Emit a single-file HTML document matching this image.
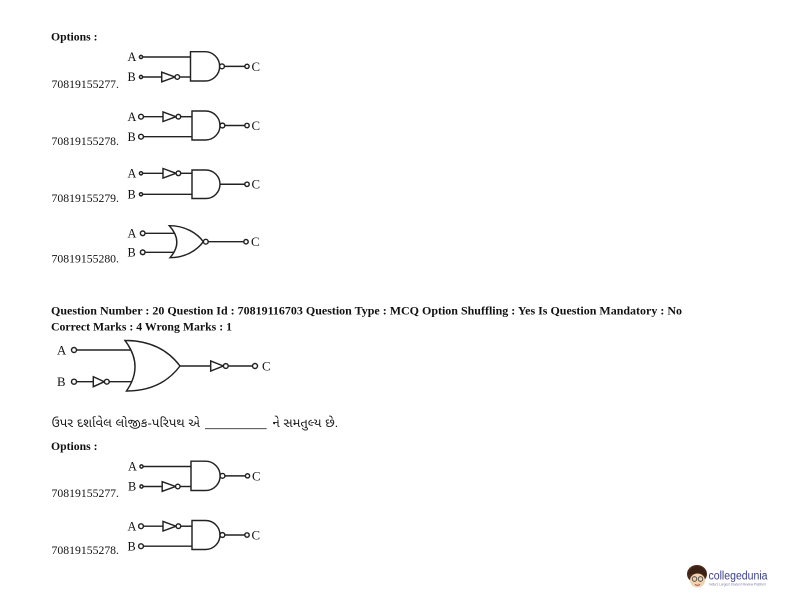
<!DOCTYPE html>
<html>
<head>
<meta charset="utf-8">
<style>
  html,body{margin:0;padding:0;background:#fff;}
  body{width:792px;height:612px;overflow:hidden;}
  svg{display:block;}
  .t{font-family:"Liberation Serif",serif;fill:#111;}
  .b{font-weight:bold;}
  .g{font-family:"Liberation Sans","Noto Sans Gujarati","Lohit Gujarati",sans-serif;fill:#1a1a1a;}
  .w{stroke:#222;stroke-width:1.45;fill:none;}
  .s{stroke:#222;stroke-width:1.45;fill:#fff;}
</style>
</head>
<body>
<svg width="792" height="612" viewBox="0 0 792 612" xmlns="http://www.w3.org/2000/svg">
  <rect width="792" height="612" fill="#fff"/>

  <!-- Options header -->
  <text class="t b" x="51" y="40.5" font-size="12" textLength="46.5" lengthAdjust="spacingAndGlyphs">Options :</text>

  <!-- Diagram 1 -->
  <g id="d1">
    <text class="t" x="127.5" y="61.2" font-size="12.3">A</text>
    <text class="t" x="127.5" y="81.2" font-size="12.3">B</text>
    <circle class="s" cx="141" cy="57" r="1.6"/>
    <line class="w" x1="142.6" y1="57" x2="190.5" y2="57"/>
    <circle class="s" cx="141" cy="77" r="1.6"/>
    <line class="w" x1="142.6" y1="77" x2="161.7" y2="77"/>
    <polygon class="s" points="161.7,72.2 161.7,81.8 175,77"/>
    <circle class="s" cx="177.3" cy="77" r="2.3"/>
    <line class="w" x1="179.6" y1="77" x2="190.5" y2="77"/>
    <path class="s" d="M190.5,51.7 H205 A14.65,14.65 0 0 1 205,81 H190.5 Z"/>
    <circle class="s" cx="222" cy="66.35" r="2.4"/>
    <line class="w" x1="224.4" y1="66.35" x2="244.9" y2="66.35"/>
    <circle class="s" cx="247" cy="66.35" r="2.1"/>
    <text class="t" x="251.5" y="70.8" font-size="12.8">C</text>
  </g>
  <text class="t" x="51.5" y="88" font-size="11.8" textLength="67.5" lengthAdjust="spacingAndGlyphs">70819155277.</text>

  <!-- Diagram 2 -->
  <g id="d2">
    <text class="t" x="127.5" y="121.2" font-size="12.3">A</text>
    <text class="t" x="127.5" y="141.2" font-size="12.3">B</text>
    <circle class="s" cx="141" cy="116.7" r="2.4"/>
    <line class="w" x1="143.4" y1="116.7" x2="163" y2="116.7"/>
    <polygon class="s" points="163,111.9 163,121.5 176,116.7"/>
    <circle class="s" cx="178.4" cy="116.7" r="2.3"/>
    <line class="w" x1="180.7" y1="116.7" x2="192" y2="116.7"/>
    <circle class="s" cx="141" cy="136.7" r="2.4"/>
    <line class="w" x1="143.4" y1="136.7" x2="192" y2="136.7"/>
    <path class="s" d="M192,111 H205.5 A14.5,14.5 0 0 1 205.5,140 H192 Z"/>
    <circle class="s" cx="222.4" cy="125.5" r="2.4"/>
    <line class="w" x1="224.8" y1="125.5" x2="244.8" y2="125.5"/>
    <circle class="s" cx="247" cy="125.5" r="2.2"/>
    <text class="t" x="251.5" y="130" font-size="12.8">C</text>
  </g>
  <text class="t" x="51.5" y="145" font-size="11.8" textLength="67.5" lengthAdjust="spacingAndGlyphs">70819155278.</text>

  <!-- Diagram 3 -->
  <text class="t" x="127.5" y="177.7" font-size="12.3">A</text>
  <text class="t" x="127.5" y="198.7" font-size="12.3">B</text>
  <circle class="s" cx="141" cy="173.3" r="1.6"/>
  <line class="w" x1="142.6" y1="173.3" x2="163" y2="173.3"/>
  <polygon class="s" points="163,168.5 163,178.1 176,173.3"/>
  <circle class="s" cx="178.4" cy="173.3" r="2.3"/>
  <line class="w" x1="180.7" y1="173.3" x2="192" y2="173.3"/>
  <circle class="s" cx="141" cy="194.3" r="1.6"/>
  <line class="w" x1="142.6" y1="194.3" x2="192" y2="194.3"/>
  <path class="s" d="M192,170 H205.75 A14.25,14.25 0 0 1 205.75,198.5 H192 Z"/>
  <line class="w" x1="220" y1="184.25" x2="244.8" y2="184.25"/>
  <circle class="s" cx="247" cy="184.25" r="2.2"/>
  <text class="t" x="251.5" y="188.7" font-size="12.8">C</text>
  <text class="t" x="51.5" y="202" font-size="11.8" textLength="67.5" lengthAdjust="spacingAndGlyphs">70819155279.</text>

  <!-- Diagram 4 (NOR) -->
  <text class="t" x="127.5" y="237.7" font-size="12.3">A</text>
  <text class="t" x="127.5" y="256.7" font-size="12.3">B</text>
  <circle class="s" cx="142.7" cy="233.3" r="2.3"/>
  <line class="w" x1="145" y1="233.3" x2="174.6" y2="233.3"/>
  <circle class="s" cx="142.7" cy="252.3" r="2.3"/>
  <line class="w" x1="145" y1="252.3" x2="173.9" y2="252.3"/>
  <path class="s" d="M169.3,225.7 C185,225.7 197,233 203.3,241.7 C197,250.4 185,257.7 170,257.7 Q184,241.7 169.3,225.7 Z"/>
  <circle class="s" cx="205.8" cy="241.7" r="2.4"/>
  <line class="w" x1="208.2" y1="241.7" x2="243.8" y2="241.7"/>
  <circle class="s" cx="246" cy="241.7" r="2.2"/>
  <text class="t" x="251" y="246.2" font-size="12.8">C</text>
  <text class="t" x="51.5" y="262.5" font-size="11.8" textLength="67.5" lengthAdjust="spacingAndGlyphs">70819155280.</text>

  <!-- Question header -->
  <text class="t b" x="51" y="314.5" font-size="11.8" textLength="631" lengthAdjust="spacingAndGlyphs">Question Number : 20 Question Id : 70819116703 Question Type : MCQ Option Shuffling : Yes Is Question Mandatory : No</text>
  <text class="t b" x="51" y="330.5" font-size="11.8">Correct Marks : 4 Wrong Marks : 1</text>

  <!-- Big diagram -->
  <text class="t" x="57" y="354.5" font-size="12.8">A</text>
  <text class="t" x="57" y="386" font-size="12.8">B</text>
  <circle class="s" cx="74" cy="350" r="2.5"/>
  <line class="w" x1="76.5" y1="350" x2="130.9" y2="350"/>
  <circle class="s" cx="74" cy="381.7" r="2.5"/>
  <line class="w" x1="76.5" y1="381.7" x2="93.3" y2="381.7"/>
  <polygon class="s" points="93.3,376.7 93.3,386.7 104.3,381.7"/>
  <circle class="s" cx="106.8" cy="381.7" r="2.4"/>
  <line class="w" x1="109.2" y1="381.7" x2="131.8" y2="381.7"/>
  <path class="s" d="M125,340.5 C150,340.5 168,350 180,366 C168,382 150,391 126.5,391 Q144.25,365.7 125,340.5 Z"/>
  <line class="w" x1="180" y1="366" x2="210.7" y2="366"/>
  <polygon class="s" points="210.7,361 210.7,371 223.3,366"/>
  <circle class="s" cx="225.8" cy="366" r="2.4"/>
  <line class="w" x1="228.2" y1="366" x2="252.5" y2="366"/>
  <circle class="s" cx="255" cy="366" r="2.5"/>
  <text class="t" x="262" y="370.5" font-size="12.8">C</text>

  <!-- Gujarati line -->
  <text class="g" x="51.5" y="427" font-size="12" textLength="148.5" lengthAdjust="spacingAndGlyphs">ઉપર દર્શાવેલ લોજીક-પરિપથ એ</text>
  <line x1="205" y1="428.7" x2="266.7" y2="428.7" stroke="#333" stroke-width="0.9"/>
  <text class="g" x="272.7" y="427" font-size="12" textLength="65.6" lengthAdjust="spacingAndGlyphs">ને સમતુલ્ય છે.</text>

  <!-- Options 2 -->
  <text class="t b" x="51" y="450" font-size="12" textLength="46.5" lengthAdjust="spacingAndGlyphs">Options :</text>

  <use href="#d1" transform="translate(0.5,409.5)"/>
  <text class="t" x="51.5" y="497" font-size="11.8" textLength="67.5" lengthAdjust="spacingAndGlyphs">70819155277.</text>

  <use href="#d2" transform="translate(0,409.5)"/>
  <text class="t" x="51.5" y="554" font-size="11.8" textLength="67.5" lengthAdjust="spacingAndGlyphs">70819155278.</text>

  <!-- collegedunia logo -->
  <g>
    <ellipse cx="697" cy="574" rx="10" ry="9" fill="#4a2a1a"/>
    <ellipse cx="697.5" cy="580.5" rx="7.5" ry="7" fill="#f0d2b0"/>
    <path d="M688,574 Q691,565 700,567 Q707,569 706,576 Q700,572 693,574 Z" fill="#3a2015"/>
    <circle cx="694.5" cy="579" r="2.3" fill="none" stroke="#333" stroke-width="0.8"/>
    <circle cx="700.5" cy="579" r="2.3" fill="none" stroke="#333" stroke-width="0.8"/>
    <path d="M695,584.5 Q697.5,586 700,584.5" stroke="#a33" stroke-width="0.8" fill="none"/>
    <text x="708.5" y="579.5" font-family="Liberation Sans, sans-serif" font-size="11.5" fill="#3b3f8c" textLength="59" lengthAdjust="spacingAndGlyphs">collegedunia</text>
    <text x="709" y="585.5" font-family="Liberation Sans, sans-serif" font-size="3.3" fill="#7a7fa8" textLength="57" lengthAdjust="spacingAndGlyphs">India's Largest Student Review Platform</text>
  </g>
</svg>
</body>
</html>
